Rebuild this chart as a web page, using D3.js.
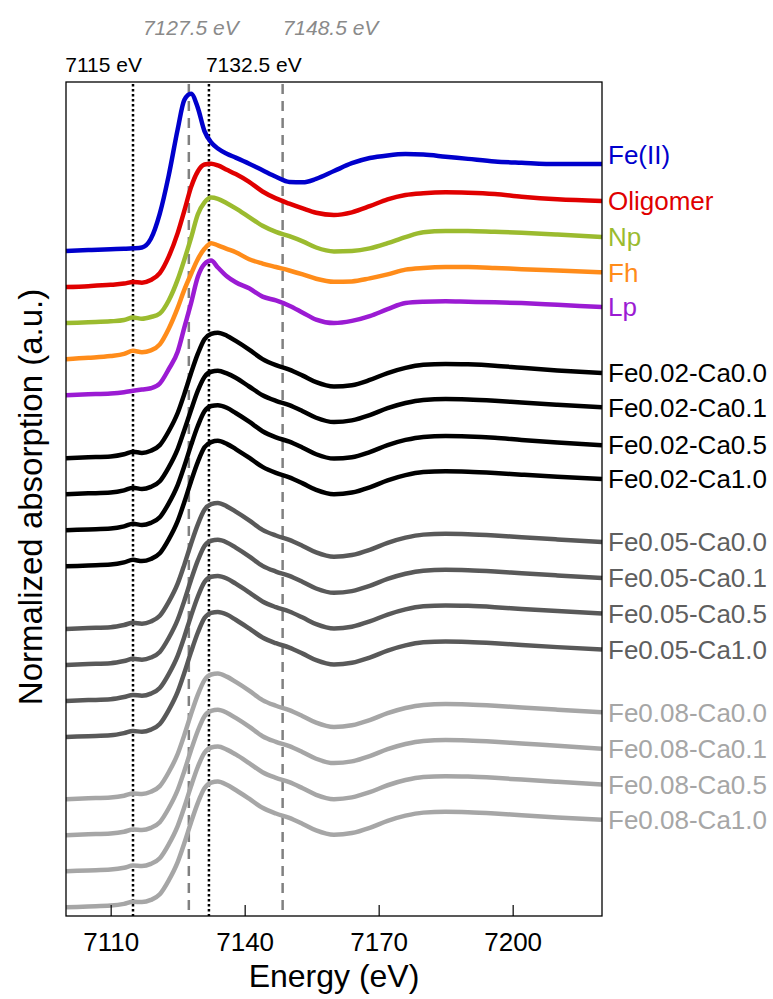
<!DOCTYPE html>
<html>
<head>
<meta charset="utf-8">
<script src="https://cdn.jsdelivr.net/npm/d3@7"></script>
<style>
  body { margin: 0; background: #fff; }
  text { font-family: "Liberation Sans", Arial, sans-serif; }
</style>
</head>
<body>
<div id="container"></div>
<script>
/* CONSTANTS AND GLOBALS */
const width = 773,
  height = 999;
const margin = { top: 82, right: 172, bottom: 83, left: 66 };

/* DATA */
// shared energy grid (eV) for every spectrum
const energy = [7100, 7105, 7110, 7113, 7115, 7117, 7119, 7121, 7123, 7125,
  7126.5, 7128, 7129.5, 7131, 7132.5, 7134, 7136, 7138, 7141, 7144,
  7147, 7150, 7153, 7156, 7160, 7164, 7168, 7172, 7176, 7180,
  7185, 7190, 7196, 7202, 7210, 7220];

// normalized absorption
const muFeII = [0, 0.01, 0.02, 0.025, 0.03, 0.04, 0.14, 0.43, 0.87, 1.40,
  1.74, 1.81, 1.65, 1.38, 1.25, 1.18, 1.12, 1.075, 1.005, 0.93,
  0.855, 0.795, 0.79, 0.83, 0.92, 1.01, 1.07, 1.10, 1.115, 1.11,
  1.085, 1.06, 1.03, 1.015, 1.0, 1.0];
const muOligomer = [0, 0.01, 0.025, 0.04, 0.058, 0.05, 0.08, 0.16, 0.35, 0.62,
  0.88, 1.15, 1.33, 1.41, 1.42, 1.40, 1.35, 1.30, 1.21, 1.10,
  1.02, 0.96, 0.905, 0.855, 0.83, 0.86, 0.93, 1.01, 1.06, 1.08,
  1.09, 1.085, 1.07, 1.04, 1.01, 0.99];
const muNp = [0, 0.01, 0.02, 0.035, 0.064, 0.05, 0.07, 0.11, 0.26, 0.50,
  0.73, 0.98, 1.25, 1.39, 1.445, 1.43, 1.38, 1.32, 1.22, 1.12,
  1.05, 1.0, 0.94, 0.87, 0.825, 0.83, 0.86, 0.92, 0.99, 1.045,
  1.06, 1.06, 1.05, 1.04, 1.02, 0.99];
const muFh = [0, 0.015, 0.035, 0.06, 0.096, 0.08, 0.10, 0.17, 0.35, 0.59,
  0.80, 0.98, 1.15, 1.27, 1.335, 1.31, 1.27, 1.23, 1.15, 1.10,
  1.06, 1.02, 0.975, 0.925, 0.89, 0.895, 0.93, 0.975, 1.03, 1.05,
  1.06, 1.06, 1.05, 1.035, 1.02, 1.0];
const muLp = [0, 0.01, 0.02, 0.035, 0.05, 0.065, 0.08, 0.135, 0.30, 0.50,
  0.78, 1.06, 1.36, 1.51, 1.55, 1.47, 1.37, 1.30, 1.23, 1.135,
  1.09, 1.03, 0.95, 0.87, 0.83, 0.855, 0.91, 0.99, 1.06, 1.075,
  1.08, 1.075, 1.07, 1.06, 1.04, 1.015];

const muFe02Ca00 = [0, 0.01, 0.02, 0.045, 0.075, 0.06, 0.085, 0.15, 0.31, 0.52,
  0.74, 0.98, 1.20, 1.37, 1.43, 1.445, 1.41, 1.35, 1.25, 1.14,
  1.07, 1.02, 0.95, 0.875, 0.825, 0.84, 0.90, 0.98, 1.04, 1.075,
  1.085, 1.08, 1.065, 1.04, 1.01, 0.98];
const muFe02Ca01 = [0, 0.01, 0.02, 0.045, 0.075, 0.06, 0.085, 0.15, 0.31, 0.52,
  0.74, 0.97, 1.19, 1.35, 1.41, 1.42, 1.39, 1.34, 1.24, 1.14,
  1.075, 1.025, 0.955, 0.88, 0.83, 0.85, 0.91, 0.99, 1.05, 1.085,
  1.095, 1.09, 1.075, 1.055, 1.03, 1.0];
const muFe02Ca05 = [0, 0.01, 0.02, 0.045, 0.075, 0.06, 0.085, 0.15, 0.31, 0.52,
  0.74, 0.98, 1.20, 1.37, 1.43, 1.44, 1.41, 1.35, 1.25, 1.14,
  1.07, 1.02, 0.95, 0.875, 0.825, 0.84, 0.90, 0.98, 1.04, 1.075,
  1.085, 1.08, 1.065, 1.04, 1.01, 0.98];
const muFe02Ca10 = [0, 0.01, 0.02, 0.045, 0.075, 0.06, 0.085, 0.15, 0.31, 0.52,
  0.74, 0.98, 1.20, 1.37, 1.43, 1.445, 1.41, 1.35, 1.25, 1.145,
  1.075, 1.025, 0.955, 0.88, 0.83, 0.85, 0.91, 0.99, 1.05, 1.085,
  1.095, 1.09, 1.075, 1.055, 1.03, 1.005];

const muFe05Ca00 = [0, 0.01, 0.02, 0.045, 0.07, 0.06, 0.085, 0.15, 0.31, 0.52,
  0.74, 0.98, 1.20, 1.37, 1.435, 1.45, 1.41, 1.35, 1.25, 1.14,
  1.075, 1.025, 0.955, 0.88, 0.83, 0.85, 0.91, 0.99, 1.05, 1.085,
  1.095, 1.09, 1.075, 1.055, 1.03, 1.0];
const muFe05Ca01 = [0, 0.01, 0.02, 0.045, 0.07, 0.06, 0.085, 0.15, 0.31, 0.52,
  0.74, 0.98, 1.20, 1.37, 1.43, 1.44, 1.41, 1.35, 1.25, 1.14,
  1.075, 1.025, 0.955, 0.88, 0.83, 0.85, 0.91, 0.99, 1.05, 1.085,
  1.095, 1.09, 1.075, 1.055, 1.03, 1.0];
const muFe05Ca05 = [0, 0.01, 0.02, 0.045, 0.07, 0.06, 0.085, 0.15, 0.31, 0.52,
  0.74, 0.98, 1.20, 1.37, 1.43, 1.44, 1.41, 1.35, 1.25, 1.145,
  1.08, 1.03, 0.96, 0.885, 0.835, 0.855, 0.915, 0.995, 1.055, 1.09,
  1.10, 1.095, 1.08, 1.06, 1.035, 1.006];
const muFe05Ca10 = [0, 0.01, 0.02, 0.045, 0.07, 0.06, 0.085, 0.15, 0.31, 0.52,
  0.74, 0.98, 1.20, 1.37, 1.43, 1.44, 1.41, 1.35, 1.25, 1.145,
  1.08, 1.03, 0.96, 0.885, 0.835, 0.855, 0.915, 0.995, 1.055, 1.09,
  1.10, 1.095, 1.08, 1.06, 1.035, 1.009];

const muFe08Ca00 = [0, 0.01, 0.02, 0.04, 0.065, 0.06, 0.085, 0.15, 0.31, 0.52,
  0.74, 0.98, 1.20, 1.37, 1.435, 1.446, 1.41, 1.35, 1.25, 1.14,
  1.075, 1.025, 0.955, 0.88, 0.83, 0.85, 0.91, 0.99, 1.05, 1.085,
  1.095, 1.09, 1.075, 1.055, 1.03, 1.0];
const muFe08Ca01 = [0, 0.01, 0.02, 0.04, 0.065, 0.06, 0.085, 0.15, 0.31, 0.52,
  0.74, 0.98, 1.20, 1.37, 1.43, 1.443, 1.41, 1.35, 1.25, 1.14,
  1.075, 1.025, 0.955, 0.88, 0.83, 0.85, 0.91, 0.99, 1.05, 1.085,
  1.095, 1.09, 1.075, 1.055, 1.03, 0.995];
const muFe08Ca05 = [0, 0.01, 0.02, 0.04, 0.065, 0.06, 0.085, 0.15, 0.31, 0.52,
  0.74, 0.98, 1.20, 1.365, 1.425, 1.435, 1.40, 1.345, 1.245, 1.14,
  1.075, 1.025, 0.955, 0.88, 0.83, 0.85, 0.91, 0.99, 1.05, 1.085,
  1.095, 1.09, 1.075, 1.055, 1.03, 1.0];
const muFe08Ca10 = [0, 0.01, 0.02, 0.04, 0.065, 0.06, 0.085, 0.15, 0.31, 0.52,
  0.74, 0.98, 1.20, 1.37, 1.435, 1.447, 1.41, 1.35, 1.25, 1.145,
  1.08, 1.03, 0.96, 0.885, 0.835, 0.855, 0.915, 0.995, 1.055, 1.09,
  1.10, 1.095, 1.08, 1.06, 1.035, 1.009];

const sampleNames = ["Fe(II)", "Oligomer", "Np", "Fh", "Lp",
  "Fe0.02-Ca0.0", "Fe0.02-Ca0.1", "Fe0.02-Ca0.5", "Fe0.02-Ca1.0",
  "Fe0.05-Ca0.0", "Fe0.05-Ca0.1", "Fe0.05-Ca0.5", "Fe0.05-Ca1.0",
  "Fe0.08-Ca0.0", "Fe0.08-Ca0.1", "Fe0.08-Ca0.5", "Fe0.08-Ca1.0"];
const sampleSpectra = [muFeII, muOligomer, muNp, muFh, muLp,
  muFe02Ca00, muFe02Ca01, muFe02Ca05, muFe02Ca10,
  muFe05Ca00, muFe05Ca01, muFe05Ca05, muFe05Ca10,
  muFe08Ca00, muFe08Ca01, muFe08Ca05, muFe08Ca10];
// vertical stacking offset of each spectrum (normalized units)
const stackOffsets = [7.555, 7.14, 6.725, 6.31, 5.895,
  5.17, 4.755, 4.34, 3.925,
  3.205, 2.79, 2.375, 1.96,
  1.245, 0.83, 0.415, 0];
const sampleColors = ["#0000cc", "#e00000", "#9bbb2f", "#ff8c1a", "#9b1bd3",
  "#000000", "#000000", "#000000", "#000000",
  "#595959", "#595959", "#595959", "#595959",
  "#a6a6a6", "#a6a6a6", "#a6a6a6", "#a6a6a6"];
const labelColors = ["#0000cc", "#e00000", "#9bbb2f", "#ff8c1a", "#9b1bd3",
  "#000000", "#000000", "#000000", "#000000",
  "#5f5f5f", "#5f5f5f", "#5f5f5f", "#5f5f5f",
  "#a6a6a6", "#a6a6a6", "#a6a6a6", "#a6a6a6"];

const xTicks = [7110, 7140, 7170, 7200];

// reference energies marked by vertical lines
const markerLines = [
  { at: 7115, label: "7115 eV", kind: "dotted" },
  { at: 7132, label: "7132.5 eV", kind: "dotted" },
  { at: 7127.5, label: "7127.5 eV", kind: "dashed" },
  { at: 7148.5, label: "7148.5 eV", kind: "dashed" }
];

/* SCALES */
const xScale = d3.scaleLinear()
  .domain([7100, 7220])
  .range([margin.left, width - margin.right + 1]);

const yScale = d3.scaleLinear()
  .domain([-0.1, 9.5])
  .range([height - margin.bottom, margin.top]);

const series = sampleNames.map((name, i) => ({
  name: name,
  color: sampleColors[i],
  labelColor: labelColors[i],
  offset: stackOffsets[i],
  points: energy.map((e, j) => ({ e: e, mu: sampleSpectra[i][j] }))
}));

/* SVG */
const svg = d3.select("#container")
  .append("svg")
  .attr("width", width)
  .attr("height", height);

const plotBottom = height - margin.bottom;

// vertical marker lines (behind the curves)
svg.selectAll("line.marker")
  .data(markerLines)
  .join("line")
  .attr("class", "marker")
  .attr("x1", d => xScale(d.at))
  .attr("x2", d => xScale(d.at))
  .attr("y1", margin.top + 2)
  .attr("y2", d => d.kind === "dotted" ? plotBottom : plotBottom - 4)
  .attr("stroke", d => d.kind === "dotted" ? "#000" : "#808080")
  .attr("stroke-width", 2.5)
  .attr("stroke-dasharray", d => d.kind === "dotted" ? "2.5,2.5" : "10,7");

// spectra
const line = d3.line()
  .x(d => xScale(d.e))
  .curve(d3.curveMonotoneX);

svg.selectAll("path.spectrum")
  .data(series)
  .join("path")
  .attr("class", "spectrum")
  .attr("d", s => line.y(d => yScale(d.mu + s.offset))(s.points))
  .attr("fill", "none")
  .attr("stroke", s => s.color)
  .attr("stroke-width", 4.5)
  .attr("stroke-linejoin", "round");

// frame
svg.append("rect")
  .attr("x", margin.left)
  .attr("y", margin.top)
  .attr("width", xScale.range()[1] - margin.left)
  .attr("height", plotBottom - margin.top)
  .attr("fill", "none")
  .attr("stroke", "#000")
  .attr("stroke-width", 1.3);

// x axis, ticks pointing inward
const xAxis = d3.axisBottom(xScale)
  .tickValues(xTicks)
  .tickFormat(d3.format("d"))
  .tickSizeInner(-11)
  .tickSizeOuter(0)
  .tickPadding(17);

svg.append("g")
  .attr("transform", `translate(0, ${plotBottom})`)
  .call(xAxis)
  .call(g => g.select(".domain").remove())
  .call(g => g.selectAll("line").attr("stroke", "#000").attr("stroke-width", 1.2))
  .call(g => g.selectAll("text")
    .attr("fill", "#000")
    .style("font-size", "26px")
    .style("font-family", "'Liberation Sans', Arial, sans-serif"));

// axis titles
svg.append("text")
  .attr("x", (margin.left + xScale.range()[1]) / 2)
  .attr("y", 987)
  .attr("text-anchor", "middle")
  .style("font-size", "32px")
  .text("Energy (eV)");

svg.append("text")
  .attr("transform", `translate(42, ${(margin.top + plotBottom) / 2 - 2})rotate(-90)`)
  .attr("text-anchor", "middle")
  .style("font-size", "33px")
  .text("Normalized absorption (a.u.)");

// sample labels at the right end of each spectrum
svg.selectAll("text.label")
  .data(series)
  .join("text")
  .attr("class", "label")
  .attr("x", xScale.range()[1] + 6)
  .attr("y", s => yScale(s.points[s.points.length - 1].mu + s.offset) + (s.name === "Fe(II)" ? -9 : 0))
  .attr("dy", "0.36em")
  .attr("fill", s => s.labelColor)
  .style("font-size", "26px")
  .text(s => s.name);

// energy annotations above the frame
svg.selectAll("text.marker-label")
  .data(markerLines)
  .join("text")
  .attr("class", "marker-label")
  .attr("x", d => {
    if (d.at === 7115) return xScale(d.at) + 9;
    if (d.at === 7132) return xScale(d.at) - 3;
    if (d.at === 7127.5) return xScale(d.at) + 2;
    return xScale(d.at);
  })
  .attr("y", d => d.kind === "dotted" ? 72 : 35)
  .attr("text-anchor", d => d.at === 7115 ? "end" : (d.at === 7127.5 ? "middle" : "start"))
  .attr("fill", d => d.kind === "dotted" ? "#000" : "#8a8a8a")
  .style("font-style", d => d.kind === "dashed" ? "italic" : "normal")
  .style("font-size", "21px")
  .text(d => d.label);
</script>
</body>
</html>
